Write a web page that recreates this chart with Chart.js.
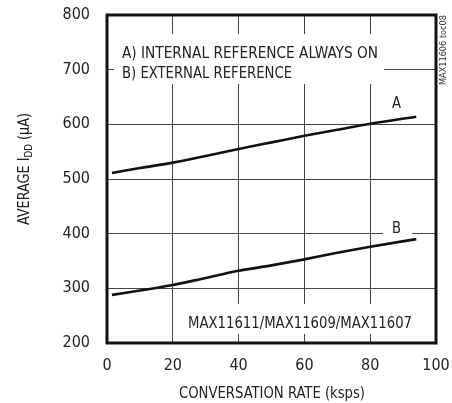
<!DOCTYPE html>
<html>
<head>
<meta charset="utf-8">
<script src="https://cdn.jsdelivr.net/npm/chart.js@4"></script>
<style>
  html, body { margin: 0; padding: 0; background: #fff; }
  #wrap { width: 452px; height: 403px; }
</style>
</head>
<body>
<div id="wrap"><canvas id="chart"></canvas></div>
<script>
// conversion rate (ksps) and average IDD (uA)
const rate = [1.5, 10, 20, 30, 40, 50, 60, 70, 80, 94];
const currentA = [511, 520, 530, 542, 555, 567, 579, 590, 601, 614];
const currentB = [288, 296, 306, 319, 332, 342, 353, 365, 376, 390];
const xTicks = [0, 20, 40, 60, 80, 100];
const yTicks = [200, 300, 400, 500, 600, 700, 800];

const FONT = '"Liberation Sans Narrow", "Arial Narrow", "DejaVu Sans Condensed", sans-serif';

function toPoints(xs, ys) {
    return xs.map((x, i) => ({ x, y: ys[i] }));
}

// text squeezed/stretched to a target width so the condensed look holds
function fitText(ctx, text, x, y, width, align) {
    const w = ctx.measureText(text).width;
    const s = width / w;
    ctx.save();
    ctx.translate(x, y);
    ctx.scale(s, 1);
    ctx.textAlign = align || 'left';
    ctx.fillText(text, 0, 0);
    ctx.restore();
}

const decor = {
    id: 'decor',
    beforeDatasetsDraw(chart) {
        const ctx = chart.ctx;
        ctx.save();
        ctx.fillStyle = '#fff';
        ctx.fillRect(114, 34, 270, 50);   // legend text box
        ctx.fillRect(383, 221, 29, 16);   // "B" label gap
        ctx.fillRect(186, 304, 228, 30);  // part number box
        ctx.restore();
    },
    afterDraw(chart) {
        const ctx = chart.ctx;
        const a = chart.chartArea;
        ctx.save();
        ctx.fillStyle = '#222';
        ctx.textBaseline = 'alphabetic';

        ctx.font = '16px ' + FONT;
        fitText(ctx, 'A) INTERNAL REFERENCE ALWAYS ON', 122, 58, 256);
        fitText(ctx, 'B) EXTERNAL REFERENCE', 122, 78, 170);
        fitText(ctx, 'A', 392, 108, 9);
        fitText(ctx, 'B', 392, 233, 9);
        fitText(ctx, 'MAX11611/MAX11609/MAX11607', 188, 328, 224);
        fitText(ctx, 'CONVERSATION RATE (ksps)', 179, 398, 186);

        // y axis title with subscript
        ctx.translate(29, 169);
        ctx.rotate(-Math.PI / 2);
        const parts = [
            ['AVERAGE I', '16px ' + FONT, 0],
            ['DD', '11px ' + FONT, 3],
            [' (\u00B5A)', '16px ' + FONT, 0]
        ];
        let total = 0;
        parts.forEach(p => { ctx.font = p[1]; total += ctx.measureText(p[0]).width; });
        const sx = 112 / total;
        ctx.scale(sx, 1);
        let cx = -total / 2;
        parts.forEach(p => {
            ctx.font = p[1];
            ctx.fillText(p[0], cx, p[2]);
            cx += ctx.measureText(p[0]).width;
        });
        ctx.restore();

        // stamp on the right
        ctx.save();
        ctx.fillStyle = '#333';
        ctx.font = '9px ' + FONT;
        ctx.translate(446, 50);
        ctx.rotate(-Math.PI / 2);
        fitText(ctx, 'MAX11606 toc08', 0, 0, 70, 'center');
        ctx.restore();

        // heavy frame
        ctx.save();
        ctx.strokeStyle = '#111';
        ctx.lineWidth = 3;
        ctx.strokeRect(a.left, a.top, a.right - a.left, a.bottom - a.top);
        ctx.restore();
    }
};

new Chart(document.getElementById('chart'), {
    type: 'line',
    data: {
        datasets: [{
            label: 'A',
            data: toPoints(rate, currentA),
            borderColor: '#111',
            borderWidth: 2.6,
            pointRadius: 0,
            cubicInterpolationMode: 'monotone',
            fill: false
        },
        {
            label: 'B',
            data: toPoints(rate, currentB),
            borderColor: '#111',
            borderWidth: 2.6,
            pointRadius: 0,
            cubicInterpolationMode: 'monotone',
            fill: false
        }]
    },
    options: {
        responsive: true,
        maintainAspectRatio: false,
        animation: false,
        layout: { padding: { top: 15, right: 16, left: 0, bottom: 0 } },
        plugins: {
            legend: { display: false },
            tooltip: { enabled: false }
        },
        scales: {
            x: {
                type: 'linear',
                min: 0,
                max: 100,
                afterFit: s => {
                    s.height = 60;
                    s.paddingLeft = 0;
                    s.paddingRight = 0;
                },
                afterBuildTicks: s => { s.ticks = xTicks.map(v => ({ value: v })); },
                ticks: {
                    color: '#222',
                    padding: 13,
                    font: { family: FONT, size: 16 }
                },
                grid: { color: '#444', lineWidth: 1, drawTicks: false },
                border: { display: false }
            },
            y: {
                min: 200,
                max: 800,
                afterFit: s => {
                    s.width = 107;
                    s.paddingTop = 0;
                    s.paddingBottom = 0;
                },
                afterBuildTicks: s => { s.ticks = yTicks.map(v => ({ value: v })); },
                ticks: {
                    color: '#222',
                    padding: 17,
                    font: { family: FONT, size: 16 }
                },
                grid: { color: '#444', lineWidth: 1, drawTicks: false },
                border: { display: false }
            }
        }
    },
    plugins: [decor]
});
</script>
</body>
</html>
